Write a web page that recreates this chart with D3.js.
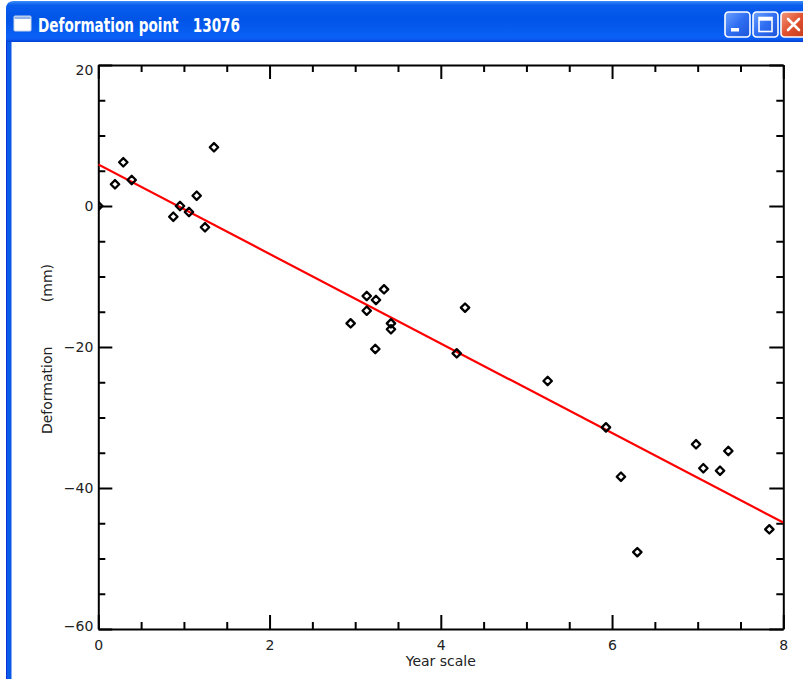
<!DOCTYPE html>
<html>
<head>
<meta charset="utf-8">
<script src="https://cdn.jsdelivr.net/npm/d3@7"></script>
<style>
  html, body { margin: 0; padding: 0; background: #ffffff; }
  svg { display: block; }
  .tick text { font-family: "DejaVu Sans", sans-serif; font-size: 14px; font-weight: 400; fill: #222; }
</style>
</head>
<body>
<svg id="chart" width="803" height="679"></svg>
<script>
// ---- data ----
const windowTitle = "Deformation point   13076";
const xTitle = "Year scale";
const yTitle = "Deformation          (mm)";

const yearValues = [0.00, 0.195, 0.292, 0.390, 0.876, 0.954, 1.059, 1.149, 1.246, 1.351,
                    2.947, 3.135, 3.135, 3.243, 3.235, 3.337, 3.418, 3.418, 4.186, 4.283,
                    5.248, 5.929, 6.104, 6.295, 6.981, 7.066, 7.261, 7.358, 7.837];
const deformationValues = [0.0, 3.08, 6.20, 3.69, -1.52, 0.00, -0.85, 1.46, -3.02, 8.33,
                    -16.64, -12.77, -14.85, -13.33, -20.28, -11.82, -16.64, -17.49, -20.90, -14.42,
                    -24.82, -31.40, -38.40, -49.10, -33.80, -37.20, -37.55, -34.75, -45.86];

// fitted trend line (two end points, as drawn)
const fitYears = [0, 8];
const fitDeformation = [5.9, -44.9];

const xMajorTicks = [0, 2, 4, 6, 8];
const xTickLabels = ["0", "2", "4", "6", "8"];
const xMinorTicks = [0.5, 1, 1.5, 2.5, 3, 3.5, 4.5, 5, 5.5, 6.5, 7, 7.5];
const yMajorTicks = [-60, -40, -20, 0, 20];
const yTickLabels = ["\u221260", "\u221240", "\u221220", "0", "20"];
const yMinorTicks = [-55, -50, -45, -35, -30, -25, -15, -10, -5, 5, 10, 15];

// ---- setup ----
const svg = d3.select("#chart");
const W = 803, H = 679;
const plot = { left: 98.3, right: 783.3, top: 65, bottom: 629 };

const x = d3.scaleLinear().domain([0, 8]).range([plot.left, plot.right]);
const y = d3.scaleLinear().domain([-60, 20]).range([plot.bottom, plot.top]);

const defs = svg.append("defs");
const tg = defs.append("linearGradient").attr("id", "titleGrad").attr("x1", 0).attr("y1", 0).attr("x2", 0).attr("y2", 1);
[[0, "#3b8cf8"], [0.1, "#0a5ded"], [0.45, "#0054e6"], [0.85, "#0a60f5"], [0.93, "#0b5cf2"], [1, "#0040d0"]]
  .forEach(([o, c]) => tg.append("stop").attr("offset", o).attr("stop-color", c));
const bg = defs.append("linearGradient").attr("id", "btnGrad").attr("x1", 0).attr("y1", 0).attr("x2", 1).attr("y2", 1);
[[0, "#6ea2ff"], [0.5, "#2f6ef2"], [1, "#1d55d8"]].forEach(([o, c]) => bg.append("stop").attr("offset", o).attr("stop-color", c));
const cg = defs.append("linearGradient").attr("id", "closeGrad").attr("x1", 0).attr("y1", 0).attr("x2", 1).attr("y2", 1);
[[0, "#f19a7c"], [0.5, "#e0512f"], [1, "#c23b1c"]].forEach(([o, c]) => cg.append("stop").attr("offset", o).attr("stop-color", c));
defs.append("clipPath").attr("id", "plotClip")
  .append("rect").attr("x", plot.left).attr("y", plot.top)
  .attr("width", plot.right - plot.left).attr("height", plot.bottom - plot.top);

// ---- window chrome ----
const chrome = svg.append("g");
chrome.append("rect").attr("x", 0).attr("y", 0).attr("width", W).attr("height", H).attr("fill", "#ffffff");
chrome.append("rect").attr("x", 6).attr("y", 20).attr("width", 5.5).attr("height", H - 20).attr("fill", "#0a5ae8");
chrome.append("rect").attr("x", 6).attr("y", 20).attr("width", 1).attr("height", H - 20).attr("fill", "#0831d9");
chrome.append("path")
  .attr("d", `M6,42 L6,9 Q6,1 14,1 L${W + 10},1 L${W + 10},42 Z`)
  .attr("fill", "url(#titleGrad)");
chrome.append("rect").attr("x", 14).attr("y", 16).attr("width", 17).attr("height", 15)
  .attr("fill", "#ffffff").attr("stroke", "#c9d6ea").attr("stroke-width", 1).attr("rx", 1);
chrome.append("rect").attr("x", 14.5).attr("y", 16.5).attr("width", 16).attr("height", 2.5).attr("fill", "#8fb2e8");
chrome.append("text").attr("x", 38).attr("y", 32)
  .attr("font-family", "'Liberation Sans Narrow', 'DejaVu Sans Condensed', sans-serif")
  .attr("font-weight", "bold").attr("font-size", 19).attr("fill", "#ffffff")
  .attr("textLength", 202).attr("lengthAdjust", "spacingAndGlyphs")
  .style("white-space", "pre")
  .text(windowTitle);
function button(bx, fill) {
  const g = chrome.append("g").attr("transform", `translate(${bx},12)`);
  g.append("rect").attr("x", 0).attr("y", 0).attr("width", 25).attr("height", 25).attr("rx", 3.5)
    .attr("fill", fill).attr("stroke", "#ffffff").attr("stroke-width", 1.6);
  return g;
}
const bMin = button(725, "url(#btnGrad)");
bMin.append("rect").attr("x", 6).attr("y", 16).attr("width", 8).attr("height", 3.5).attr("fill", "#ffffff");
const bMax = button(753, "url(#btnGrad)");
bMax.append("rect").attr("x", 6).attr("y", 5.5).attr("width", 13).attr("height", 14).attr("fill", "none")
  .attr("stroke", "#ffffff").attr("stroke-width", 1.6);
bMax.append("rect").attr("x", 6).attr("y", 5.5).attr("width", 13).attr("height", 3.2).attr("fill", "#ffffff");
const bClose = button(781, "url(#closeGrad)");
bClose.append("path").attr("d", "M7,7 L18,18 M18,7 L7,18").attr("stroke", "#ffffff").attr("stroke-width", 2.6)
  .attr("stroke-linecap", "round");

// ---- axes ----
function styleAxis(g) {
  g.selectAll("path.domain").attr("stroke", "#000").attr("stroke-width", 2);
  g.selectAll(".tick line").attr("stroke", "#000").attr("stroke-width", 2);
}
svg.append("g").attr("transform", `translate(0,${plot.bottom})`)
  .call(d3.axisBottom(x).tickValues(xMajorTicks).tickFormat((d, i) => xTickLabels[i])
    .tickSizeInner(-14).tickSizeOuter(0).tickPadding(11))
  .call(styleAxis);
svg.append("g").attr("transform", `translate(0,${plot.bottom})`)
  .call(d3.axisBottom(x).tickValues(xMinorTicks).tickFormat("").tickSizeInner(-7).tickSizeOuter(0))
  .call(g => g.select(".domain").remove()).call(styleAxis);
svg.append("g").attr("transform", `translate(0,${plot.top})`)
  .call(d3.axisTop(x).tickValues(xMajorTicks).tickFormat("").tickSizeInner(-14).tickSizeOuter(0))
  .call(styleAxis);
svg.append("g").attr("transform", `translate(0,${plot.top})`)
  .call(d3.axisTop(x).tickValues(xMinorTicks).tickFormat("").tickSizeInner(-7).tickSizeOuter(0))
  .call(g => g.select(".domain").remove()).call(styleAxis);
const leftAxis = svg.append("g").attr("transform", `translate(${plot.left},0)`)
  .call(d3.axisLeft(y).tickValues(yMajorTicks).tickFormat((d, i) => yTickLabels[i])
    .tickSizeInner(-14).tickSizeOuter(0).tickPadding(5))
  .call(styleAxis);
leftAxis.selectAll(".tick text").attr("dy", d => d === 20 ? "0.68em" : d === -60 ? "0.12em" : "0.32em");
svg.append("g").attr("transform", `translate(${plot.left},0)`)
  .call(d3.axisLeft(y).tickValues(yMinorTicks).tickFormat("").tickSizeInner(-7).tickSizeOuter(0))
  .call(g => g.select(".domain").remove()).call(styleAxis);
svg.append("g").attr("transform", `translate(${plot.right},0)`)
  .call(d3.axisRight(y).tickValues(yMajorTicks).tickFormat("").tickSizeInner(-14).tickSizeOuter(0))
  .call(styleAxis);
svg.append("g").attr("transform", `translate(${plot.right},0)`)
  .call(d3.axisRight(y).tickValues(yMinorTicks).tickFormat("").tickSizeInner(-7).tickSizeOuter(0))
  .call(g => g.select(".domain").remove()).call(styleAxis);

// axis titles
svg.append("text").attr("x", (plot.left + plot.right) / 2).attr("y", 666)
  .attr("text-anchor", "middle").attr("font-family", "'DejaVu Sans', sans-serif")
  .attr("font-size", 14).attr("fill", "#222")
  .text(xTitle);
svg.append("text").attr("transform", `translate(52,${(plot.top + plot.bottom) / 2 + 2}) rotate(-90)`)
  .attr("text-anchor", "middle").attr("font-family", "'DejaVu Sans', sans-serif")
  .attr("font-size", 14).attr("fill", "#222")
  .style("white-space", "pre")
  .text(yTitle);

// ---- marks ----
const marks = svg.append("g").attr("clip-path", "url(#plotClip)");
const pts = yearValues.map((v, i) => ({ x: v, y: deformationValues[i] }));
const fit = fitYears.map((v, i) => ({ x: v, y: fitDeformation[i] }));

marks.append("path").datum(fit)
  .attr("d", d3.line().x(d => x(d.x)).y(d => y(d.y)))
  .attr("fill", "none").attr("stroke", "#ff0000").attr("stroke-width", 2.2);

const r = 4.2;
marks.selectAll("path.pt").data(pts).join("path").attr("class", "pt")
  .attr("d", d => {
    const cx = x(d.x), cy = y(d.y);
    return `M${cx - r},${cy} L${cx},${cy - r} L${cx + r},${cy} L${cx},${cy + r} Z`;
  })
  .attr("fill", "none").attr("stroke", "#000").attr("stroke-width", 2.3)
  .attr("stroke-linejoin", "round");
</script>
</body>
</html>
